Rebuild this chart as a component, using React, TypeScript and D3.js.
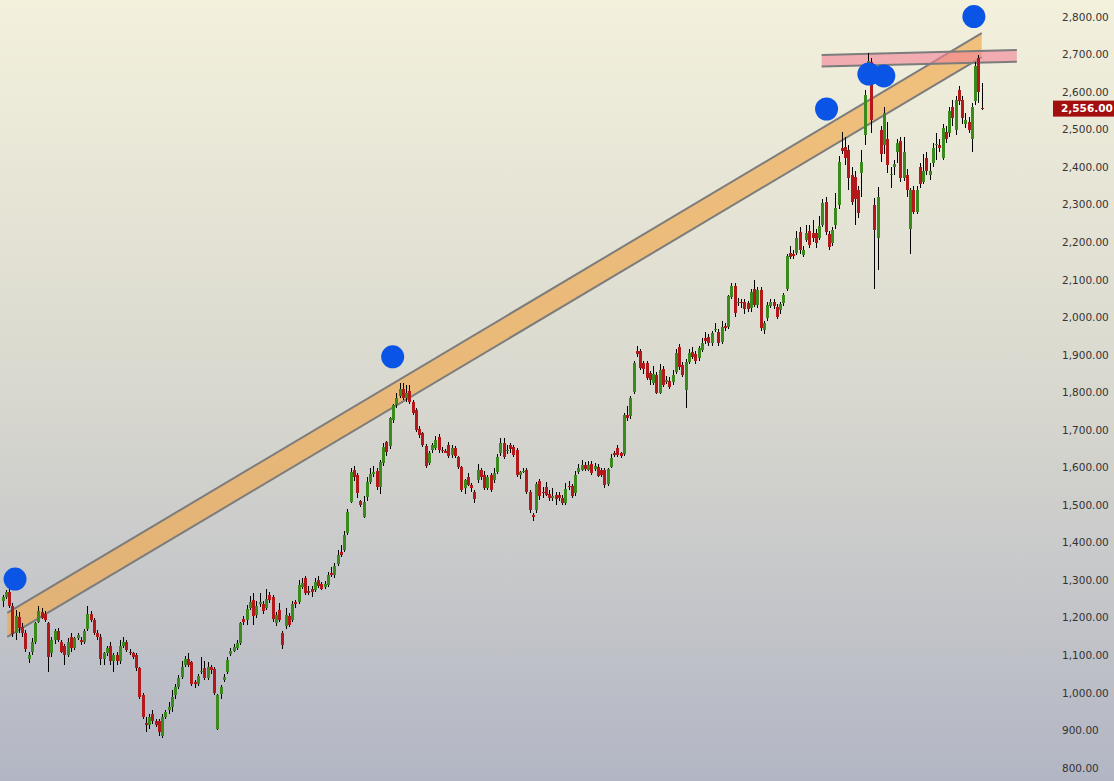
import React, { useEffect } from 'react';
import * as d3 from 'd3';

const W = 1114;
const H = 781;

// [open, high, low, close]
const ohlcPart1: number[][] = [
  [1245,1262,1230,1255],[1255,1275,1250,1268],[1268,1285,1225,1232],[1232,1240,1150,1158],
  [1160,1220,1140,1205],[1202,1215,1160,1172],[1175,1185,1150,1160],[1160,1168,1110,1118],
  [1090,1110,1080,1102],[1108,1145,1100,1135],[1135,1190,1130,1185],[1190,1232,1185,1218],
  [1215,1225,1198,1200],[1210,1218,1190,1195],[1185,1190,1055,1095],[1105,1150,1095,1140],
  [1140,1170,1130,1165],[1165,1172,1135,1140],[1135,1140,1105,1110],[1125,1130,1075,1100],
  [1100,1145,1095,1135],[1150,1160,1110,1120],[1120,1150,1115,1145],[1145,1160,1140,1155],
  [1140,1148,1128,1135],[1135,1170,1130,1165],[1170,1232,1165,1210],[1210,1218,1190,1195],
  [1195,1200,1155,1160],[1160,1168,1140,1150],[1150,1158,1075,1090],[1090,1110,1075,1105],
  [1105,1125,1098,1120],[1125,1135,1075,1085],[1085,1105,1055,1100],[1100,1110,1075,1085],
  [1085,1140,1078,1125],[1125,1150,1120,1135],[1135,1140,1108,1115],[1110,1118,1100,1105],
  [1105,1110,1090,1095],[1100,1105,1058,1065],[1065,1070,985,990],[995,1000,930,935],
  [920,935,895,915],[915,945,905,935],[945,955,918,925],[925,930,908,915],
  [925,930,885,895],[885,945,880,935],[935,955,930,950],[955,975,945,962],
];

const ohlcPart2: number[][] = [
  [963,1007,948,990],[994,1025,985,1016],[1016,1048,1010,1039],[1043,1085,1038,1070],
  [1074,1098,1068,1089],[1090,1105,1070,1074],[1081,1085,1018,1025],[1030,1035,1012,1025],
  [1025,1050,1018,1045],[1056,1096,1050,1057],[1065,1085,1035,1041],[1041,1082,1035,1068],
  [1068,1075,1050,1061],[1063,1068,995,999],[903,998,900,994],[996,1022,985,1016],
  [1034,1050,1030,1043],[1056,1095,1050,1087],[1103,1120,1098,1112],[1112,1130,1108,1123],
  [1119,1140,1115,1132],[1132,1190,1128,1185],[1196,1205,1180,1189],[1194,1235,1180,1223],
  [1225,1258,1220,1243],[1247,1265,1180,1205],[1207,1245,1200,1232],[1236,1265,1230,1243],
  [1236,1245,1210,1218],[1225,1278,1220,1250],[1261,1268,1240,1247],[1256,1262,1190,1196],
  [1185,1215,1178,1207],[1220,1240,1188,1194],[1160,1165,1118,1127],[1179,1225,1170,1207],
  [1205,1212,1175,1181],[1194,1245,1190,1238],[1243,1248,1225,1236],[1243,1300,1238,1287],
  [1283,1305,1278,1292],[1305,1310,1260,1265],[1272,1285,1262,1267],[1276,1285,1255,1270],
  [1274,1305,1268,1296],[1300,1310,1280,1284],[1290,1295,1275,1278],[1283,1298,1278,1290],
  [1287,1322,1282,1314],[1318,1335,1308,1314],[1314,1345,1305,1338],[1343,1380,1338,1367],
  [1376,1395,1362,1367],
];

const ohlcPart3: number[][] = [
  [1381,1430,1375,1421],[1426,1490,1420,1482],[1509,1600,1505,1588],[1594,1605,1565,1575],
  [1580,1585,1520,1532],[1510,1515,1495,1500],[1469,1525,1465,1509],[1522,1575,1510,1562],
  [1562,1600,1555,1583],[1583,1605,1575,1588],[1591,1600,1540,1548],[1548,1620,1530,1615],
  [1612,1665,1605,1655],[1668,1672,1630,1641],[1657,1735,1650,1732],[1727,1770,1720,1767],
  [1767,1800,1760,1786],[1791,1825,1785,1810],[1810,1825,1780,1786],[1786,1820,1775,1800],
  [1804,1820,1770,1775],[1775,1780,1740,1746],[1753,1760,1695,1700],[1703,1710,1680,1687],
  [1692,1695,1655,1660],[1657,1662,1598,1604],[1612,1645,1608,1639],[1647,1665,1640,1660],
  [1652,1685,1648,1673],[1681,1690,1640,1647],[1647,1655,1640,1643],[1645,1650,1638,1640],
  [1660,1668,1625,1630],[1634,1660,1625,1652],[1652,1658,1625,1630],[1628,1632,1595,1602],
  [1602,1605,1535,1540],[1546,1570,1530,1567],[1575,1585,1550,1554],[1554,1560,1535,1546],
  [1535,1540,1505,1516],[1567,1610,1560,1594],[1594,1600,1568,1575],[1580,1590,1540,1546],
  [1546,1580,1540,1575],[1580,1585,1535,1540],[1567,1600,1560,1586],[1588,1635,1582,1628],
  [1639,1680,1632,1666],[1666,1680,1622,1628],[1645,1660,1635,1646],[1660,1665,1640,1650],
  [1655,1660,1628,1634],[1647,1652,1575,1580],[1580,1592,1570,1588],[1590,1598,1585,1591],
  [1594,1600,1530,1535],[1535,1540,1480,1487],[1475,1480,1458,1468],[1487,1562,1480,1556],
];

const ohlcPart4: number[][] = [
  [1565,1570,1515,1524],[1535,1548,1520,1533],[1548,1562,1525,1528],[1530,1540,1512,1520],
  [1518,1545,1512,1525],[1527,1535,1500,1516],[1527,1535,1510,1518],[1520,1528,1500,1507],
  [1507,1560,1500,1543],[1552,1565,1540,1549],[1550,1555,1518,1525],[1532,1590,1525,1580],
  [1588,1610,1582,1599],[1594,1620,1590,1607],[1607,1615,1590,1596],[1594,1618,1590,1607],
  [1610,1618,1580,1586],[1596,1612,1590,1604],[1602,1610,1575,1578],[1594,1600,1575,1580],
  [1594,1600,1545,1554],[1556,1600,1550,1596],[1602,1635,1598,1626],[1638,1645,1628,1634],
  [1652,1660,1628,1634],[1638,1642,1625,1630],
];

const ohlcPart5: number[][] = [
  [1636,1745,1632,1740],[1740,1765,1725,1732],[1737,1790,1730,1785],[1801,1885,1795,1879],
  [1911,1925,1895,1903],[1911,1915,1860,1865],[1879,1885,1850,1863],[1879,1885,1832,1839],
  [1852,1858,1820,1833],[1825,1870,1820,1849],[1847,1855,1795,1799],[1799,1875,1795,1860],
  [1863,1870,1815,1820],[1828,1845,1822,1833],[1831,1840,1810,1815],[1828,1860,1820,1847],
  [1855,1915,1850,1905],[1921,1930,1860,1868],[1873,1880,1840,1847],[1807,1890,1760,1881],
  [1881,1915,1875,1905],[1908,1920,1890,1895],[1903,1910,1875,1884],[1892,1925,1885,1919],
  [1913,1945,1908,1932],[1945,1960,1930,1937],[1948,1955,1925,1932],[1932,1965,1925,1959],
  [1970,1985,1960,1970],[1961,1968,1925,1932],[1935,1990,1928,1975],[1977,1985,1965,1972],
  [1975,2060,1970,2057],[2054,2092,2050,2084],[2084,2092,2000,2012],[2038,2052,2030,2041],
  [2040,2050,2025,2038],[2041,2048,2010,2022],[2038,2045,2015,2022],[2025,2075,2015,2068],
  [2076,2100,2028,2033],[2033,2080,2025,2073],[2073,2080,1965,1972],[1967,1990,1955,1985],
  [1998,2040,1990,2033],[2030,2050,2025,2041],[2041,2048,2022,2030],[2028,2035,1995,2001],
  [2020,2042,2010,2036],[2038,2065,2030,2060],[2076,2170,2070,2164],[2171,2190,2155,2161],
  [2168,2180,2155,2163],[2172,2230,2165,2212],[2228,2240,2170,2180],[2166,2190,2160,2180],
  [2206,2245,2200,2225],[2230,2245,2185,2193],[2225,2260,2200,2211],[2225,2235,2185,2198],
  [2211,2270,2205,2243],[2246,2315,2240,2305],[2307,2320,2220,2227],[2222,2230,2180,2187],
  [2198,2240,2190,2233],[2246,2330,2235,2291],[2299,2430,2290,2414],
];

const ohlcPart6: number[][] = [
  [2450,2495,2435,2444],[2454,2480,2405,2425],[2446,2460,2340,2371],[2379,2400,2300,2307],
  [2375,2390,2245,2315],[2339,2350,2265,2278],[2385,2445,2320,2414],[2486,2606,2459,2592],
  [2675,2705,2660,2684],[2681,2690,2491,2526],[2299,2318,2075,2233],[2211,2347,2126,2321],
  [2500,2510,2415,2435],[2460,2560,2435,2545],[2475,2520,2385,2405],[2380,2400,2345,2382],
  [2400,2420,2380,2408],[2440,2475,2410,2465],[2470,2480,2360,2370],[2370,2480,2362,2440],
  [2380,2395,2320,2340],[2235,2345,2170,2340],[2340,2350,2275,2280],[2280,2350,2275,2340],
  [2400,2410,2345,2355],[2360,2435,2355,2390],[2425,2440,2380,2390],[2380,2410,2365,2390],
  [2410,2465,2400,2450],[2460,2490,2420,2462],[2460,2475,2440,2450],[2425,2515,2420,2505],
  [2495,2510,2465,2475],[2490,2560,2480,2550],[2560,2580,2510,2530],[2500,2590,2485,2580],
  [2605,2615,2565,2575],[2580,2590,2515,2530],[2515,2545,2505,2525],[2520,2535,2490,2500],
  [2475,2570,2440,2560],[2575,2680,2565,2670],[2690,2700,2570,2600],[2557,2625,2553,2556],
];

const candles = [...ohlcPart1, ...ohlcPart2, ...ohlcPart3, ...ohlcPart4, ...ohlcPart5, ...ohlcPart6];

const priceTicks = d3.range(800, 2801, 100);
const lastClose = 2556;

// channel: [candle index, upper-edge price]
const channelPoints = [[1.4, 1213], [301, 2757]];
const channelWidth = 64;

// resistance zone: [candle index, top price, bottom price]
const zonePoints = [[251.8, 2699, 2668], [311.8, 2712, 2681]];

// markers: candle index and price
const markerIdx = [3.8, 119.9, 253.3, 266.3, 270.9, 298.6];
const markerPrice = [1303, 1895, 2555, 2648, 2643, 2801];

const GREEN = '#3b8a1e';
const RED = '#b3191a';

export default function App() {
  useEffect(() => {
    document.body.style.margin = '0';
  }, []);

  const x = d3.scaleLinear().domain([0, candles.length - 1]).range([2.7, 981.7]);
  const y = d3.scaleLinear().domain([800, 2800]).range([768, 17]);
  const fmt = d3.format(',.2f');

  const [c0, c1] = channelPoints;
  const channelPoly = [
    [x(c0[0]), y(c0[1])],
    [x(c1[0]), y(c1[1])],
    [x(c1[0]), y(c1[1] - channelWidth)],
    [x(c0[0]), y(c0[1] - channelWidth)],
  ];
  const [z0, z1] = zonePoints;
  const zonePoly = [
    [x(z0[0]), y(z0[1])],
    [x(z1[0]), y(z1[1])],
    [x(z1[0]), y(z1[2])],
    [x(z0[0]), y(z0[2])],
  ];
  const polyStr = (p: number[][]) => p.map((d) => d.join(',')).join(' ');

  return (
    <svg
      width={W}
      height={H}
      style={{ position: 'absolute', left: 0, top: 0, display: 'block' }}
      fontFamily="'DejaVu Sans', Verdana, sans-serif"
    >
      <defs>
        <linearGradient id="bg" x1="0" y1="0" x2="0" y2="1">
          <stop offset="0" stopColor="#f3f1dc" />
          <stop offset="0.5" stopColor="#d9d8cf" />
          <stop offset="1" stopColor="#b2b6c4" />
        </linearGradient>
      </defs>
      <rect x={0} y={0} width={W} height={H} fill="url(#bg)" />

      {/* channel */}
      <polygon points={polyStr(channelPoly)} fill="rgba(240,170,80,0.68)" />
      <line x1={channelPoly[0][0]} y1={channelPoly[0][1]} x2={channelPoly[1][0]} y2={channelPoly[1][1]} stroke="#7c7c7c" strokeWidth={2} />
      <line x1={channelPoly[3][0]} y1={channelPoly[3][1]} x2={channelPoly[2][0]} y2={channelPoly[2][1]} stroke="#7c7c7c" strokeWidth={2} />

      {/* resistance zone */}
      <polygon points={polyStr(zonePoly)} fill="rgba(242,128,150,0.6)" />
      <line x1={zonePoly[0][0]} y1={zonePoly[0][1]} x2={zonePoly[1][0]} y2={zonePoly[1][1]} stroke="#7c7c7c" strokeWidth={2} />
      <line x1={zonePoly[3][0]} y1={zonePoly[3][1]} x2={zonePoly[2][0]} y2={zonePoly[2][1]} stroke="#7c7c7c" strokeWidth={2} />

      {/* candles */}
      <g shapeRendering="crispEdges">
        {candles.map((d, i) => {
          const [o, h, l, c] = d;
          const cx = Math.round(x(i));
          const top = y(Math.max(o, c));
          const bot = y(Math.min(o, c));
          return (
            <g key={i}>
              <line x1={cx + 0.5} x2={cx + 0.5} y1={y(h)} y2={y(l)} stroke="#000" strokeWidth={1} />
              <rect x={cx - 1} y={top} width={3} height={Math.max(1, bot - top)} fill={c >= o ? GREEN : RED} />
            </g>
          );
        })}
      </g>

      {/* markers */}
      {markerIdx.map((mi, k) => (
        <circle key={k} cx={x(mi)} cy={y(markerPrice[k])} r={11.5} fill="#0a55e6" />
      ))}

      {/* price axis */}
      {priceTicks.map((t) => (
        <text key={t} x={1062} y={y(t)} dy="0.35em" fontSize={10.5} fill="#333">
          {fmt(t)}
        </text>
      ))}
      <rect x={1053} y={y(lastClose) - 8} width={61} height={16} fill="#a30f0f" />
      <text x={1061} y={y(lastClose)} dy="0.35em" fontSize={10.5} fontWeight="bold" fill="#fff">
        {fmt(lastClose)}
      </text>
    </svg>
  );
}
